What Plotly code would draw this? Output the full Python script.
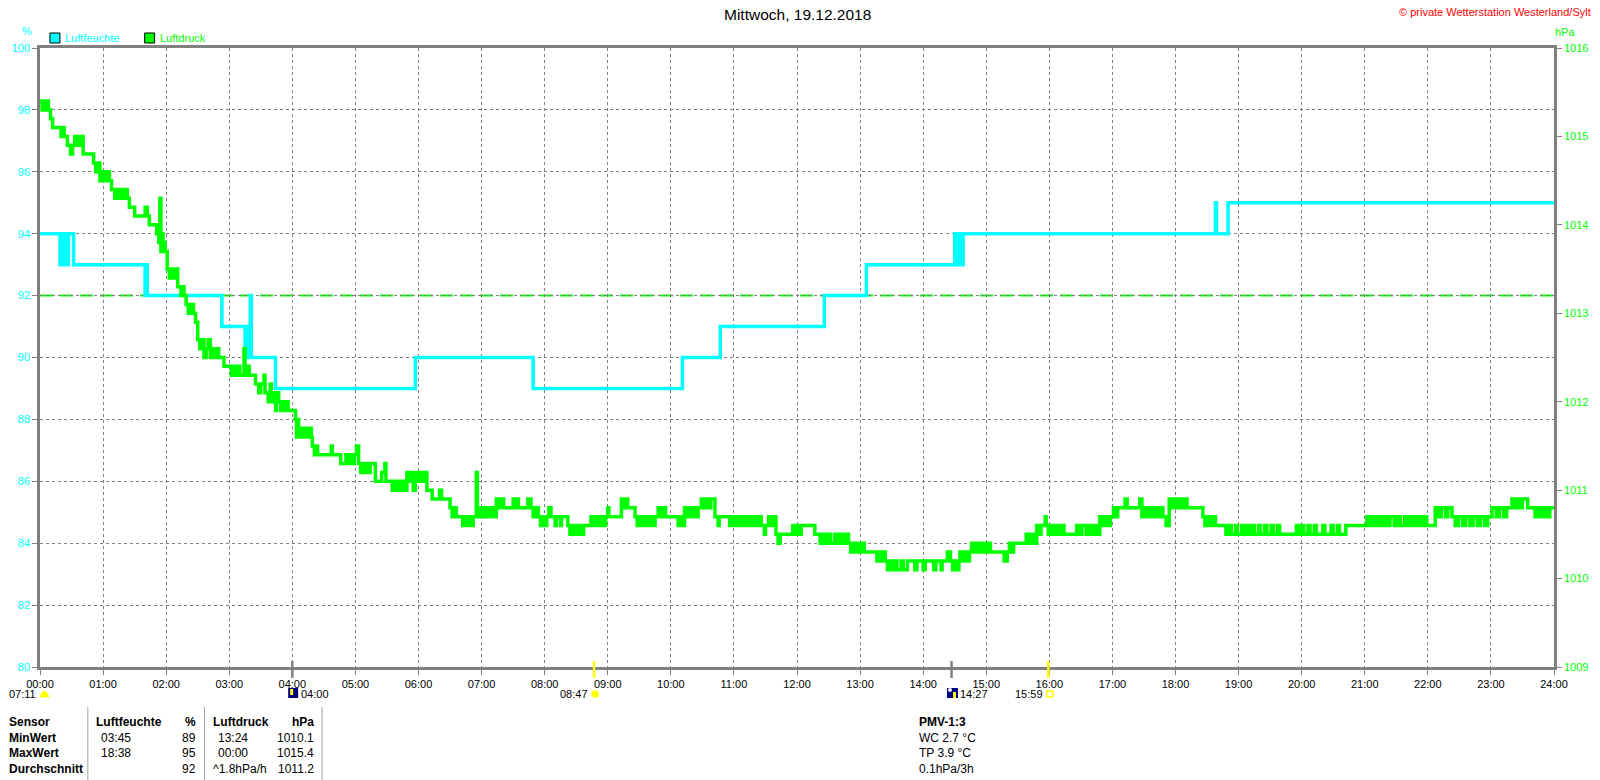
import plotly.graph_objects as go

# ---- data -----------------------------------------------------------------
TITLE = "Mittwoch, 19.12.2018"
COPYRIGHT = "© private Wetterstation Westerland/Sylt"

HOUR_LABELS = ["00:00", "01:00", "02:00", "03:00", "04:00", "05:00", "06:00",
               "07:00", "08:00", "09:00", "10:00", "11:00", "12:00", "13:00",
               "14:00", "15:00", "16:00", "17:00", "18:00", "19:00", "20:00",
               "21:00", "22:00", "23:00", "24:00"]

# Luftfeuchte (%), step series
HUM_TIMES = ["00:00", "00:19", "00:20", "00:21", "00:22", "00:23", "00:24",
             "00:25", "00:27", "00:32", "01:40", "01:41", "01:42", "02:53",
             "03:15", "03:16", "03:17", "03:18", "03:20", "03:21", "03:44",
             "05:57", "07:49", "10:11", "10:47", "12:26", "13:06", "14:30",
             "14:31", "14:32", "14:33", "14:35", "14:36", "14:38", "18:38",
             "18:39", "18:50", "24:00"]
HUM_VALUES = [94, 93, 94, 93, 94, 93, 94,
              93, 94, 93, 92, 93, 92, 91,
              90, 91, 90, 91, 92, 90, 89,
              90, 89, 90, 91, 92, 93, 94,
              93, 94, 93, 94, 93, 94, 95,
              94, 95, 95]

# Luftdruck (hPa), step series
PRES_TIMES = [
    "00:00", "00:02", "00:03", "00:05", "00:06", "00:08", "00:10", "00:12",
    "00:20", "00:22", "00:23", "00:26", "00:29", "00:31", "00:33", "00:35",
    "00:36", "00:38", "00:39", "00:41", "00:51", "00:53", "00:55", "00:57",
    "01:00", "01:02", "01:04", "01:06", "01:08", "01:11", "01:13", "01:15",
    "01:17", "01:19", "01:21", "01:23", "01:25", "01:30", "01:40", "01:42",
    "01:44", "01:51", "01:53", "01:54", "01:55", "01:56", "01:57", "01:58",
    "01:59", "02:01", "02:03", "02:06", "02:08", "02:10", "02:11", "02:14",
    "02:16", "02:17", "02:19", "02:21", "02:24", "02:26", "02:28", "02:30",
    "02:32", "02:34", "02:36", "02:38", "02:40", "02:42", "02:44", "02:46",
    "02:48", "02:50", "02:55", "03:02", "03:04", "03:06", "03:09", "03:10",
    "03:14", "03:15", "03:17", "03:19", "03:25", "03:28", "03:30", "03:33",
    "03:34", "03:37", "03:39", "03:40", "03:42", "03:44", "03:45", "03:47",
    "03:49", "03:51", "03:53", "03:55", "03:56", "04:03", "04:04", "04:05",
    "04:06", "04:08", "04:10", "04:12", "04:14", "04:16", "04:18", "04:19",
    "04:21", "04:22", "04:24", "04:37", "04:38", "04:46", "04:51", "04:53",
    "04:55", "04:57", "04:59", "05:01", "05:03", "05:05", "05:07", "05:09",
    "05:11", "05:12", "05:14", "05:19", "05:25", "05:28", "05:29", "05:35",
    "05:37", "05:39", "05:41", "05:43", "05:45", "05:47", "05:49", "05:51",
    "05:53", "05:55", "05:57", "05:59", "06:01", "06:03", "06:05", "06:08",
    "06:13", "06:20", "06:22", "06:30", "06:32", "06:34", "06:36", "06:42",
    "06:44", "06:46", "06:48", "06:50", "06:52", "06:55", "06:56", "06:58",
    "07:00", "07:02", "07:04", "07:06", "07:08", "07:10", "07:12", "07:14",
    "07:16", "07:18", "07:21", "07:30", "07:32", "07:33", "07:35", "07:44",
    "07:47", "07:49", "07:51", "07:54", "07:56", "07:58", "08:00", "08:02",
    "08:04", "08:06", "08:10", "08:11", "08:15", "08:16", "08:22", "08:24",
    "08:26", "08:28", "08:30", "08:32", "08:34", "08:35", "08:37", "08:44",
    "08:46", "08:48", "08:51", "08:53", "08:56", "08:58", "09:00", "09:01",
    "09:13", "09:15", "09:17", "09:19", "09:26", "09:28", "09:30", "09:33",
    "09:35", "09:38", "09:40", "09:43", "09:45", "09:48", "09:50", "09:52",
    "09:55", "10:07", "10:09", "10:11", "10:13", "10:15", "10:17", "10:20",
    "10:22", "10:24", "10:26", "10:29", "10:31", "10:33", "10:36", "10:38",
    "10:42", "10:45", "10:46", "10:56", "10:58", "11:01", "11:03", "11:05",
    "11:08", "11:10", "11:13", "11:16", "11:19", "11:21", "11:23", "11:26",
    "11:29", "11:30", "11:33", "11:35", "11:38", "11:40", "11:42", "11:44",
    "11:56", "11:58", "12:00", "12:02", "12:04", "12:17", "12:22", "12:24",
    "12:27", "12:30", "12:32", "12:36", "12:38", "12:41", "12:44", "12:47",
    "12:49", "12:51", "12:53", "12:55", "12:58", "13:00", "13:02", "13:04",
    "13:16", "13:18", "13:20", "13:22", "13:24", "13:26", "13:28", "13:30",
    "13:33", "13:35", "13:39", "13:41", "13:45", "13:52", "13:54", "14:00",
    "14:02", "14:10", "14:12", "14:17", "14:18", "14:23", "14:26", "14:28",
    "14:30", "14:32", "14:34", "14:35", "14:37", "14:39", "14:41", "14:44",
    "14:46", "14:48", "14:50", "14:52", "14:54", "14:56", "14:58", "15:00",
    "15:02", "15:04", "15:17", "15:20", "15:22", "15:24", "15:26", "15:38",
    "15:40", "15:43", "15:45", "15:48", "15:50", "15:52", "15:56", "15:57",
    "15:59", "16:01", "16:04", "16:06", "16:09", "16:11", "16:14", "16:26",
    "16:29", "16:31", "16:35", "16:37", "16:40", "16:42", "16:45", "16:48",
    "16:51", "16:53", "16:56", "16:58", "17:01", "17:03", "17:05", "17:12",
    "17:14", "17:26", "17:28", "17:30", "17:33", "17:35", "17:38", "17:40",
    "17:43", "17:46", "17:48", "17:51", "17:54", "17:56", "17:58", "18:01",
    "18:03", "18:06", "18:08", "18:11", "18:26", "18:28", "18:30", "18:33",
    "18:35", "18:38", "18:48", "18:51", "18:53", "18:57", "18:59", "19:03",
    "19:05", "19:08", "19:10", "19:13", "19:15", "19:19", "19:21", "19:25",
    "19:27", "19:31", "19:33", "19:37", "19:39", "19:55", "19:57", "20:00",
    "20:02", "20:06", "20:08", "20:12", "20:14", "20:20", "20:22", "20:28",
    "20:30", "20:34", "20:36", "20:42", "21:02", "21:04", "21:07", "21:09",
    "21:12", "21:15", "21:18", "21:21", "21:24", "21:28", "21:31", "21:34",
    "21:38", "21:41", "21:44", "21:47", "21:50", "21:53", "21:56", "21:59",
    "22:03", "22:07", "22:10", "22:13", "22:17", "22:19", "22:23", "22:26",
    "22:29", "22:33", "22:36", "22:40", "22:43", "22:47", "22:50", "22:54",
    "22:57", "23:01", "23:05", "23:08", "23:12", "23:15", "23:20", "23:23",
    "23:25", "23:28", "23:30", "23:35", "23:42", "23:44", "23:47", "23:50",
    "23:53", "23:56", "24:00",
]
PRES_VALUES = [
    1015.4, 1015.3, 1015.4, 1015.3, 1015.4, 1015.3, 1015.2, 1015.1,
    1015.0, 1015.1, 1015.0, 1014.9, 1014.8, 1014.9, 1015.0, 1014.9,
    1015.0, 1014.9, 1015.0, 1014.8, 1014.7, 1014.6, 1014.7, 1014.5,
    1014.6, 1014.5, 1014.6, 1014.5, 1014.4, 1014.3, 1014.4, 1014.3,
    1014.4, 1014.3, 1014.4, 1014.3, 1014.2, 1014.1, 1014.2, 1014.1,
    1014.0, 1013.9, 1013.8, 1014.3, 1013.7, 1013.9, 1013.7, 1013.8,
    1013.7, 1013.5, 1013.4, 1013.5, 1013.4, 1013.5, 1013.3, 1013.2,
    1013.3, 1013.2, 1013.1, 1013.0, 1013.1, 1013.0, 1012.9, 1012.7,
    1012.6, 1012.7, 1012.5, 1012.6, 1012.7, 1012.5, 1012.6, 1012.5,
    1012.6, 1012.5, 1012.4, 1012.3, 1012.4, 1012.3, 1012.4, 1012.3,
    1012.6, 1012.3, 1012.4, 1012.3, 1012.2, 1012.1, 1012.2, 1012.3,
    1012.1, 1012.0, 1012.2, 1012.0, 1012.1, 1011.9, 1012.1, 1012.0,
    1011.9, 1012.0, 1011.9, 1012.0, 1011.9, 1011.8, 1011.6, 1011.8,
    1011.6, 1011.7, 1011.6, 1011.7, 1011.6, 1011.7, 1011.6, 1011.5,
    1011.4, 1011.5, 1011.4, 1011.5, 1011.4, 1011.3, 1011.4, 1011.3,
    1011.4, 1011.3, 1011.4, 1011.5, 1011.3, 1011.2, 1011.3, 1011.2,
    1011.3, 1011.2, 1011.3, 1011.1, 1011.2, 1011.3, 1011.1, 1011.0,
    1011.1, 1011.0, 1011.1, 1011.0, 1011.1, 1011.0, 1011.2, 1011.1,
    1011.2, 1011.0, 1011.2, 1011.1, 1011.2, 1011.1, 1011.2, 1011.0,
    1010.9, 1011.0, 1010.9, 1010.8, 1010.7, 1010.8, 1010.7, 1010.6,
    1010.7, 1010.6, 1010.7, 1010.6, 1010.7, 1011.2, 1010.7, 1010.8,
    1010.7, 1010.8, 1010.7, 1010.8, 1010.7, 1010.8, 1010.7, 1010.9,
    1010.8, 1010.9, 1010.8, 1010.9, 1010.8, 1010.9, 1010.8, 1010.9,
    1010.8, 1010.7, 1010.8, 1010.7, 1010.6, 1010.7, 1010.6, 1010.7,
    1010.8, 1010.7, 1010.6, 1010.7, 1010.6, 1010.7, 1010.6, 1010.5,
    1010.6, 1010.5, 1010.6, 1010.5, 1010.6, 1010.5, 1010.6, 1010.7,
    1010.6, 1010.7, 1010.6, 1010.7, 1010.6, 1010.7, 1010.8, 1010.7,
    1010.9, 1010.8, 1010.9, 1010.8, 1010.7, 1010.6, 1010.7, 1010.6,
    1010.7, 1010.6, 1010.7, 1010.6, 1010.7, 1010.8, 1010.7, 1010.8,
    1010.7, 1010.6, 1010.7, 1010.6, 1010.8, 1010.7, 1010.8, 1010.7,
    1010.8, 1010.7, 1010.8, 1010.9, 1010.8, 1010.9, 1010.8, 1010.9,
    1010.7, 1010.6, 1010.7, 1010.6, 1010.7, 1010.6, 1010.7, 1010.6,
    1010.7, 1010.6, 1010.7, 1010.6, 1010.7, 1010.6, 1010.7, 1010.6,
    1010.5, 1010.6, 1010.7, 1010.6, 1010.7, 1010.5, 1010.4, 1010.5,
    1010.6, 1010.5, 1010.6, 1010.5, 1010.6, 1010.5, 1010.4, 1010.5,
    1010.4, 1010.5, 1010.4, 1010.5, 1010.4, 1010.5, 1010.4, 1010.5,
    1010.4, 1010.3, 1010.4, 1010.3, 1010.4, 1010.3, 1010.4, 1010.3,
    1010.2, 1010.3, 1010.2, 1010.3, 1010.2, 1010.1, 1010.2, 1010.1,
    1010.2, 1010.1, 1010.2, 1010.1, 1010.2, 1010.1, 1010.2, 1010.1,
    1010.2, 1010.1, 1010.2, 1010.1, 1010.2, 1010.3, 1010.2, 1010.1,
    1010.2, 1010.1, 1010.2, 1010.3, 1010.2, 1010.3, 1010.2, 1010.3,
    1010.4, 1010.3, 1010.4, 1010.3, 1010.4, 1010.3, 1010.4, 1010.3,
    1010.4, 1010.3, 1010.2, 1010.3, 1010.4, 1010.3, 1010.4, 1010.5,
    1010.4, 1010.5, 1010.4, 1010.6, 1010.5, 1010.6, 1010.7, 1010.6,
    1010.5, 1010.6, 1010.5, 1010.6, 1010.5, 1010.6, 1010.5, 1010.6,
    1010.5, 1010.6, 1010.5, 1010.6, 1010.5, 1010.6, 1010.5, 1010.7,
    1010.6, 1010.7, 1010.6, 1010.7, 1010.8, 1010.7, 1010.8, 1010.9,
    1010.8, 1010.9, 1010.7, 1010.8, 1010.7, 1010.8, 1010.7, 1010.8,
    1010.7, 1010.8, 1010.7, 1010.6, 1010.9, 1010.8, 1010.9, 1010.8,
    1010.9, 1010.8, 1010.9, 1010.8, 1010.7, 1010.6, 1010.7, 1010.6,
    1010.7, 1010.6, 1010.5, 1010.6, 1010.5, 1010.6, 1010.5, 1010.6,
    1010.5, 1010.6, 1010.5, 1010.6, 1010.5, 1010.6, 1010.5, 1010.6,
    1010.5, 1010.6, 1010.5, 1010.6, 1010.5, 1010.6, 1010.5, 1010.6,
    1010.5, 1010.6, 1010.5, 1010.6, 1010.5, 1010.6, 1010.5, 1010.6,
    1010.5, 1010.6, 1010.5, 1010.6, 1010.7, 1010.6, 1010.7, 1010.6,
    1010.7, 1010.6, 1010.7, 1010.6, 1010.7, 1010.6, 1010.7, 1010.6,
    1010.7, 1010.6, 1010.7, 1010.6, 1010.7, 1010.6, 1010.7, 1010.6,
    1010.6, 1010.8, 1010.7, 1010.8, 1010.7, 1010.8, 1010.7, 1010.6,
    1010.7, 1010.6, 1010.7, 1010.6, 1010.7, 1010.6, 1010.7, 1010.6,
    1010.7, 1010.8, 1010.7, 1010.8, 1010.7, 1010.8, 1010.9, 1010.8,
    1010.9, 1010.8, 1010.9, 1010.8, 1010.7, 1010.8, 1010.7, 1010.8,
    1010.7, 1010.8, 1010.8,
]

REF_PRESSURE = 1013.2

# sun / moon events shown under the time axis
EVENT_TIMES = ["07:11", "04:00", "08:47", "14:27", "15:59"]

# statistics table under the chart
TABLE_HEAD = ["Sensor", "Luftfeuchte", "%", "Luftdruck", "hPa"]
TABLE_ROWS = [
    ["MinWert", "03:45", "89", "13:24", "1010.1"],
    ["MaxWert", "18:38", "95", "00:00", "1015.4"],
    ["Durchschnitt", "", "92", "^1.8hPa/h", "1011.2"],
]
PMV_TITLE = "PMV-1:3"
PMV_LINES = ["WC 2.7 °C", "TP 3.9 °C", "0.1hPa/3h"]

# ---- layout helpers ---------------------------------------------------------
W, H = 1600, 780
L, R, T, B = 40, 1559, 48, 667   # plot area in pixels
FONT = "Liberation Sans, Arial, sans-serif"
CYAN = "#00ffff"
GREEN = "#00ff00"
GREY = "#808080"
YELLOW = "#ffff00"


def minutes(t):
    h, m = t.split(":")
    return int(h) * 60 + int(m)


def px(x):
    return (x - L) / (R - L)


def py(y):
    return (B - y) / (B - T)


def label(x, y, text, color="black", size=11, anchor="left", bold=False):
    if bold:
        text = "<b>" + text + "</b>"
    return dict(x=px(x), y=py(y), xref="paper", yref="paper", text=text,
                showarrow=False, xanchor=anchor, yanchor="middle", borderpad=0,
                font=dict(family=FONT, size=size, color=color))


fig = go.Figure()
fig.add_trace(go.Scatter(
    x=[minutes(t) for t in HUM_TIMES], y=HUM_VALUES, mode="lines",
    line=dict(color=CYAN, width=3.5, shape="hv"), name="Luftfeuchte",
    yaxis="y"))
fig.add_trace(go.Scatter(
    x=[minutes(t) for t in PRES_TIMES], y=PRES_VALUES, mode="lines",
    line=dict(color=GREEN, width=3.5, shape="hv"), name="Luftdruck",
    yaxis="y2"))

shapes = [
    dict(type="line", xref="x", yref="y2", x0=0, x1=1440,
         y0=REF_PRESSURE, y1=REF_PRESSURE, layer="below",
         line=dict(color=GREEN, width=2, dash="13px,7px")),
    # legend boxes
    dict(type="rect", xref="paper", yref="paper", x0=px(50), x1=px(60),
         y0=py(43), y1=py(33), fillcolor=CYAN, line=dict(color="black", width=1)),
    dict(type="rect", xref="paper", yref="paper", x0=px(145), x1=px(155),
         y0=py(43), y1=py(33), fillcolor=GREEN, line=dict(color="black", width=1)),
]

annotations = [
    label(800, 15, TITLE, size=15.5, anchor="center"),
    label(1597, 12, COPYRIGHT, color="#ff0000", size=11, anchor="right"),
    label(27, 31, "%", color=CYAN, anchor="center"),
    label(1570, 32, "hPa", color=GREEN, anchor="center"),
    label(64, 38, "Luftfeuchte", color=CYAN),
    label(159, 38, "Luftdruck", color=GREEN),
]

# event markers on the time axis and their labels
ev = {t: minutes(t) for t in EVENT_TIMES}
for t, col in (("04:00", GREY), ("08:47", YELLOW), ("14:27", GREY), ("15:59", YELLOW)):
    shapes.append(dict(type="line", xref="x", yref="paper", x0=ev[t], x1=ev[t],
                       y0=py(678), y1=py(661), line=dict(color=col, width=2.5)))

annotations += [
    label(37, 694, "07:11", anchor="right"),
    label(301, 694, "04:00"),
    label(591, 694, "08:47", anchor="right"),
    label(962, 694, "14:27"),
    label(1047, 694, "15:59", anchor="right"),
]
shapes += [
    # 07:11 half sun
    dict(type="path", xref="paper", yref="paper",
         path=f"M {px(40)},{py(697)} Q {px(44.5)},{py(685)} {px(49)},{py(697)} Z",
         fillcolor=YELLOW, line=dict(color=YELLOW, width=1)),
    # moon icons
    dict(type="rect", xref="paper", yref="paper", x0=px(289), x1=px(299),
         y0=py(698), y1=py(688), fillcolor="#000080", line=dict(width=0)),
    dict(type="rect", xref="paper", yref="paper", x0=px(291), x1=px(294),
         y0=py(695), y1=py(689), fillcolor=YELLOW, line=dict(width=0)),
    dict(type="rect", xref="paper", yref="paper", x0=px(950), x1=px(961),
         y0=py(698), y1=py(688), fillcolor="#000080", line=dict(width=0)),
    dict(type="rect", xref="paper", yref="paper", x0=px(956), x1=px(959),
         y0=py(698), y1=py(692), fillcolor=YELLOW, line=dict(width=0)),
    dict(type="circle", xref="paper", yref="paper", x0=px(951), x1=px(955),
         y0=py(692), y1=py(688), fillcolor="white", line=dict(width=0)),
    # 08:47 sun
    dict(type="circle", xref="paper", yref="paper", x0=px(593), x1=px(601),
         y0=py(698), y1=py(690), fillcolor=YELLOW,
         line=dict(color="#ffff99", width=1)),
    # 15:59 sunset box
    dict(type="rect", xref="paper", yref="paper", x0=px(1050), x1=px(1056),
         y0=py(697), y1=py(691), fillcolor="white",
         line=dict(color=YELLOW, width=1.5)),
]

# statistics table
ROW_Y = [722, 738, 753, 769]
for xs in (88, 205, 323):
    shapes.append(dict(type="line", xref="paper", yref="paper", x0=px(xs), x1=px(xs),
                       y0=py(707), y1=py(780), line=dict(color="#a0a0a0", width=1)))
annotations += [
    label(8, ROW_Y[0], TABLE_HEAD[0], bold=True, size=12),
    label(95, ROW_Y[0], TABLE_HEAD[1], bold=True, size=12),
    label(198, ROW_Y[0], TABLE_HEAD[2], bold=True, size=12, anchor="right"),
    label(213, ROW_Y[0], TABLE_HEAD[3], bold=True, size=12),
    label(316, ROW_Y[0], TABLE_HEAD[4], bold=True, size=12, anchor="right"),
]
for i, row in enumerate(TABLE_ROWS):
    yy = ROW_Y[i + 1]
    annotations += [
        label(8, yy, row[0], bold=True, size=12),
        label(100, yy, row[1], size=12),
        label(198, yy, row[2], size=12, anchor="right"),
        label(218 if row[3][0] != "^" else 213, yy, row[3], size=12),
        label(316, yy, row[4], size=12, anchor="right"),
    ]
annotations.append(label(921, ROW_Y[0], PMV_TITLE, bold=True, size=12))
for i, txt in enumerate(PMV_LINES):
    annotations.append(label(921, ROW_Y[i + 1], txt, size=12))

axis_common = dict(showline=True, linecolor=GREY, linewidth=2.5, ticks="outside",
                   ticklen=5, tickcolor=GREY, tickwidth=1, zeroline=False)

fig.update_layout(
    width=W, height=H, autosize=False,
    margin=dict(l=L, r=W - R, t=T, b=H - B),
    paper_bgcolor="white", plot_bgcolor="white",
    showlegend=False,
    font=dict(family=FONT, size=11, color="black"),
    xaxis=dict(range=[0, 1440], tickvals=[i * 60 for i in range(len(HOUR_LABELS))],
               ticktext=HOUR_LABELS, mirror=True, showgrid=True, gridcolor=GREY,
               gridwidth=1, griddash="3px,3px",
               tickfont=dict(family=FONT, size=11, color="black"), **axis_common),
    yaxis=dict(range=[80, 100], dtick=2, mirror=True, showgrid=True, gridcolor=GREY,
               gridwidth=1, griddash="3px,3px",
               tickfont=dict(family=FONT, size=11, color=CYAN), **axis_common),
    yaxis2=dict(range=[1009, 1016], dtick=1, overlaying="y", side="right",
                showgrid=False, tickfont=dict(family=FONT, size=11, color=GREEN),
                **axis_common),
    shapes=shapes,
    annotations=annotations,
)

fig.write_html("out.html", config={"displayModeBar": False},
               post_script="document.body.style.margin='0px';")
